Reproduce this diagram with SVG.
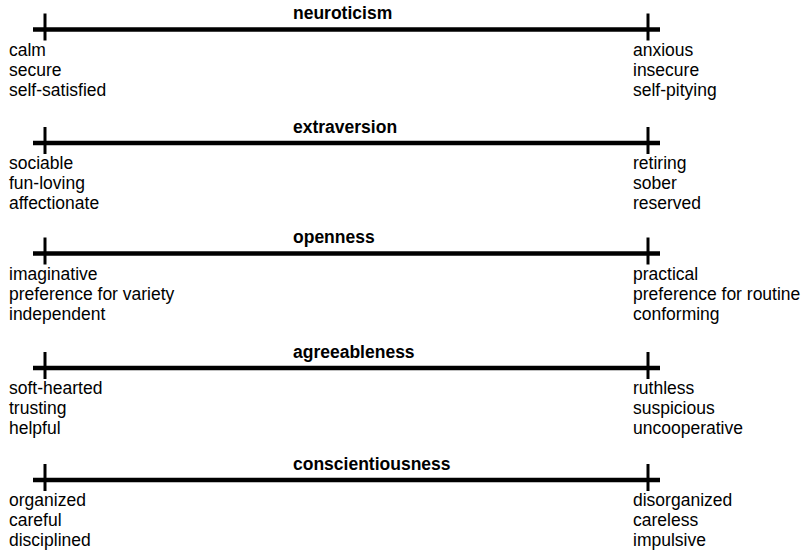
<svg xmlns="http://www.w3.org/2000/svg" width="802" height="553" viewBox="0 0 802 553">
<style>
.bar{stroke:#000;stroke-width:4.5;fill:none}
.tick{stroke:#000;stroke-width:3;fill:none}
text{font-family:"Liberation Sans",Arial,sans-serif;font-size:17.5px;fill:#000}
.t{font-weight:bold}
</style>
<rect width="802" height="553" fill="#fff"/>
<g id="connectors">
<line class="bar" x1="33" y1="29.5" x2="660" y2="29.5"/>
<line class="tick" x1="45" y1="13.5" x2="45" y2="40.5"/>
<line class="tick" x1="648" y1="13.5" x2="648" y2="40.5"/>
<line class="bar" x1="33" y1="143" x2="660" y2="143"/>
<line class="tick" x1="45" y1="127" x2="45" y2="154"/>
<line class="tick" x1="648" y1="127" x2="648" y2="154"/>
<line class="bar" x1="33" y1="253.5" x2="660" y2="253.5"/>
<line class="tick" x1="45" y1="237.5" x2="45" y2="264.5"/>
<line class="tick" x1="648" y1="237.5" x2="648" y2="264.5"/>
<line class="bar" x1="33" y1="368" x2="660" y2="368"/>
<line class="tick" x1="45" y1="352" x2="45" y2="379"/>
<line class="tick" x1="648" y1="352" x2="648" y2="379"/>
<line class="bar" x1="33" y1="480" x2="660" y2="480"/>
<line class="tick" x1="45" y1="464" x2="45" y2="491"/>
<line class="tick" x1="648" y1="464" x2="648" y2="491"/>
</g>
<g id="neuroticism">
<text class="t" x="293" y="19">neuroticism</text>
<text x="9" y="55.5">calm</text><text x="9" y="75.5">secure</text><text x="9" y="95.5">self-satisfied</text>
<text x="633" y="55.5">anxious</text><text x="633" y="75.5">insecure</text><text x="633" y="95.5">self-pitying</text>
</g>
<g id="extraversion">
<text class="t" x="293" y="132.5">extraversion</text>
<text x="9" y="169">sociable</text><text x="9" y="189">fun-loving</text><text x="9" y="209">affectionate</text>
<text x="633" y="169">retiring</text><text x="633" y="189">sober</text><text x="633" y="209">reserved</text>
</g>
<g id="openness">
<text class="t" x="293" y="243">openness</text>
<text x="9" y="279.5">imaginative</text><text x="9" y="299.5">preference for variety</text><text x="9" y="319.5">independent</text>
<text x="633" y="279.5">practical</text><text x="633" y="299.5">preference for routine</text><text x="633" y="319.5">conforming</text>
</g>
<g id="agreeableness">
<text class="t" x="293" y="357.5">agreeableness</text>
<text x="9" y="394">soft-hearted</text><text x="9" y="414">trusting</text><text x="9" y="434">helpful</text>
<text x="633" y="394">ruthless</text><text x="633" y="414">suspicious</text><text x="633" y="434">uncooperative</text>
</g>
<g id="conscientiousness">
<text class="t" x="293" y="469.5">conscientiousness</text>
<text x="9" y="506">organized</text><text x="9" y="526">careful</text><text x="9" y="546">disciplined</text>
<text x="633" y="506">disorganized</text><text x="633" y="526">careless</text><text x="633" y="546">impulsive</text>
</g>
</svg>
